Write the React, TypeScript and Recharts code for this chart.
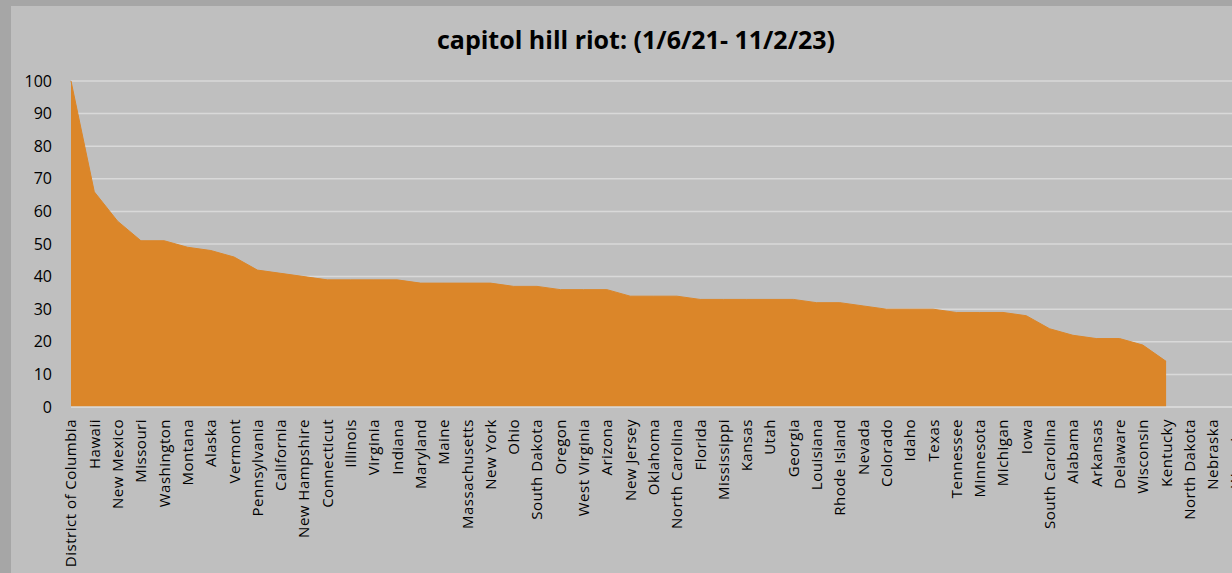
import React from "react";
import { AreaChart, Area, XAxis, YAxis, CartesianGrid } from "recharts";

const states: string[] = [
  "District of Columbia", "Hawaii", "New Mexico", "Missouri", "Washington", "Montana", "Alaska", "Vermont",
  "Pennsylvania", "California", "New Hampshire", "Connecticut", "Illinois", "Virginia", "Indiana", "Maryland",
  "Maine", "Massachusetts", "New York", "Ohio", "South Dakota", "Oregon", "West Virginia", "Arizona",
  "New Jersey", "Oklahoma", "North Carolina", "Florida", "Mississippi", "Kansas", "Utah", "Georgia",
  "Louisiana", "Rhode Island", "Nevada", "Colorado", "Idaho", "Texas", "Tennessee", "Minnesota",
  "Michigan", "Iowa", "South Carolina", "Alabama", "Arkansas", "Delaware", "Wisconsin", "Kentucky",
  "North Dakota", "Nebraska", "Wyoming",
];

const values: (number | null)[] = [
  100, 66, 57, 51, 51, 49, 48, 46,
  42, 41, 40, 39, 39, 39, 39, 38,
  38, 38, 38, 37, 37, 36, 36, 36,
  34, 34, 34, 33, 33, 33, 33, 33,
  32, 32, 31, 30, 30, 30, 29, 29,
  29, 28, 24, 22, 21, 21, 19, 14,
  null, null, null,
];

const yTicks: number[] = [0, 10, 20, 30, 40, 50, 60, 70, 80, 90, 100];

const data = states.map((s, i) => ({ state: s, value: values[i] }));

const FONT = "'Open Sans', sans-serif";

const XTick = (props: any) => {
  const { x, y, payload } = props;
  return (
    <g transform={`translate(${x},${y})`}>
      <text
        transform="rotate(-90)"
        x={-4}
        y={0}
        dy="0.36em"
        textAnchor="end"
        fill="#000"
        fontSize={15}
        letterSpacing={0.5}
        fontFamily={FONT}
      >
        {payload.value}
      </text>
    </g>
  );
};

export default function App() {
  return (
    <div
      style={{
        position: "fixed",
        left: 0,
        top: 0,
        width: 1232,
        height: 573,
        background: "#a6a6a6",
        overflow: "hidden",
      }}
    >
      <div
        style={{
          position: "absolute",
          left: 11,
          top: 6,
          width: 1221,
          height: 567,
          background: "#bfbfbf",
          overflow: "hidden",
        }}
      >
        <div
          style={{
            position: "absolute",
            left: 0,
            top: 16,
            width: 1250,
            textAlign: "center",
            fontFamily: FONT,
            fontWeight: 700,
            fontSize: 25,
            lineHeight: "34px",
            color: "#000",
          }}
        >
          capitol hill riot: (1/6/21- 11/2/23)
        </div>
        <AreaChart
          width={1235}
          height={567}
          data={data}
          margin={{ top: 75, right: 10, bottom: 0, left: 0 }}
        >
          <CartesianGrid vertical={false} stroke="#d9d9d9" strokeWidth={1.5} />
          <XAxis
            dataKey="state"
            interval={0}
            height={166}
            tick={<XTick />}
            tickLine={false}
            axisLine={{ stroke: "#d9d9d9", strokeWidth: 1.5 }}
            padding={{ left: 0, right: 0 }}
          />
          <YAxis
            width={60}
            domain={[0, 100]}
            ticks={yTicks}
            interval={0}
            axisLine={false}
            tickLine={false}
            tickMargin={13}
            tick={{ fill: "#000", fontSize: 16, fontFamily: FONT }}
          />
          <Area
            type="linear"
            dataKey="value"
            fill="#db8629"
            fillOpacity={1}
            stroke="#db8629"
            strokeWidth={1}
            isAnimationActive={false}
            dot={false}
            activeDot={false}
          />
        </AreaChart>
      </div>
    </div>
  );
}
